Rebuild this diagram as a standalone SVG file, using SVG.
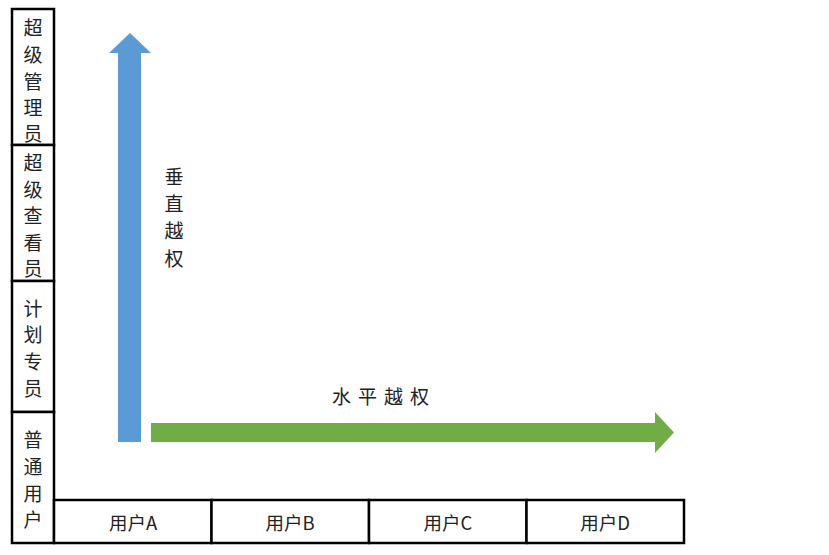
<svg xmlns="http://www.w3.org/2000/svg" width="829" height="555" viewBox="0 0 829 555">
<style>
.box{fill:#fff;stroke:#000;stroke-width:2.5}
.t{font-family:"Noto Sans CJK SC","Liberation Sans",sans-serif;font-size:19px;fill:#222;text-anchor:middle;dominant-baseline:central}
.b{font-family:"Noto Sans CJK SC","Liberation Sans",sans-serif;font-size:18.5px;fill:#222;text-anchor:middle;dominant-baseline:central}
</style>
<rect width="829" height="555" fill="#fff"/>
<g id="role-superadmin">
<rect class="box" x="12" y="9" width="42" height="136"/>
<text class="t" x="33" y="26">超</text><text class="t" x="33" y="53">级</text><text class="t" x="33" y="80">管</text><text class="t" x="33" y="106">理</text><text class="t" x="33" y="132">员</text>
</g>
<g id="role-superviewer">
<rect class="box" x="12" y="145" width="42" height="136"/>
<text class="t" x="33" y="161">超</text><text class="t" x="33" y="188">级</text><text class="t" x="33" y="214">查</text><text class="t" x="33" y="241">看</text><text class="t" x="33" y="267">员</text>
</g>
<g id="role-planner">
<rect class="box" x="12" y="281" width="42" height="131"/>
<text class="t" x="33" y="307">计</text><text class="t" x="33" y="333">划</text><text class="t" x="33" y="360">专</text><text class="t" x="33" y="387">员</text>
</g>
<g id="role-user">
<rect class="box" x="12" y="412" width="42" height="131"/>
<text class="t" x="33" y="438">普</text><text class="t" x="33" y="465">通</text><text class="t" x="33" y="492">用</text><text class="t" x="33" y="518">户</text>
</g>
<g id="user-a"><rect class="box" x="54" y="500" width="157.5" height="43"/><text class="b" x="133" y="522">用户A</text></g>
<g id="user-b"><rect class="box" x="211.5" y="500" width="157.5" height="43"/><text class="b" x="290" y="522">用户B</text></g>
<g id="user-c"><rect class="box" x="369" y="500" width="157.5" height="43"/><text class="b" x="448" y="522">用户C</text></g>
<g id="user-d"><rect class="box" x="526.5" y="500" width="157.5" height="43"/><text class="b" x="605" y="522">用户D</text></g>
<g id="connectors">
<polygon id="vertical-arrow" fill="#5B9BD5" points="118,442 141,442 141,53 151,53 130,33 109,53 118,53"/>
<polygon id="horizontal-arrow" fill="#70AD47" points="151,423 655,423 655,412 674,432.5 655,453 655,442 151,442"/>
</g>
<g id="label-vertical">
<text class="t" x="174" y="175">垂</text><text class="t" x="174" y="202">直</text><text class="t" x="174" y="229">越</text><text class="t" x="174" y="257">权</text>
</g>
<g id="label-horizontal">
<text class="t" x="384" y="395" letter-spacing="7">水平越权</text>
</g>
</svg>
